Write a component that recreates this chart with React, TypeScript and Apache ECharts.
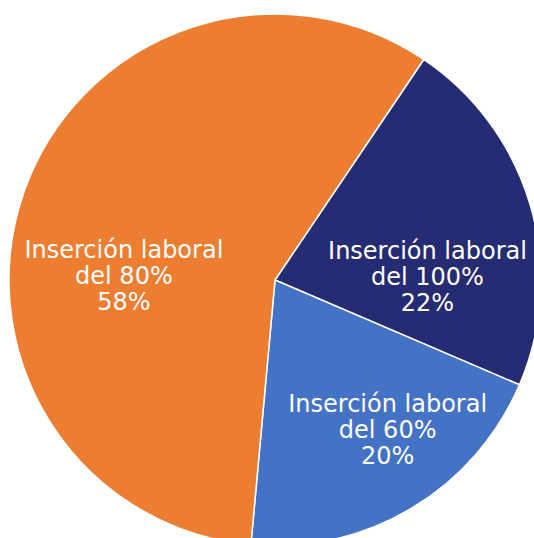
import React, { useEffect, useRef } from "react";
import * as echarts from "echarts";

const categories = ["Inserción laboral del 100%", "Inserción laboral del 60%", "Inserción laboral del 80%"];
const labelLines = [["Inserción laboral", "del 100%"], ["Inserción laboral", "del 60%"], ["Inserción laboral", "del 80%"]];
const values = [22, 20, 58];
const colors = ["#262C74", "#4472C4", "#ED7D31"];
const labelOffsets = [[22, 35], [43, 33], [-23, 42]];

export default function App() {
  const ref = useRef<HTMLDivElement>(null);
  useEffect(() => {
    document.body.style.margin = "0";
    const chart = echarts.init(ref.current!, undefined, { renderer: "svg" });
    chart.setOption({
      animation: false,
      backgroundColor: "#ffffff",
      series: [
        {
          type: "pie",
          center: [275, 280],
          radius: 266,
          startAngle: 56,
          clockwise: true,
          avoidLabelOverlap: false,
          itemStyle: { borderColor: "#ffffff", borderWidth: 1.5 },
          label: {
            show: true,
            position: "inside",
            color: "#ffffff",
            fontFamily: "DejaVu Sans",
            fontSize: 24,
            lineHeight: 26,
            align: "center",
          },
          labelLine: { show: false },
          data: categories.map((name, i) => ({
            name,
            value: values[i],
            itemStyle: { color: colors[i] },
            label: {
              offset: labelOffsets[i],
              formatter: () => `${labelLines[i].join("\n")}\n${values[i]}%`,
            },
          })),
        },
      ],
    });
    return () => chart.dispose();
  }, []);
  return <div ref={ref} style={{ position: "absolute", left: 0, top: 0, width: 534, height: 538 }} />;
}
